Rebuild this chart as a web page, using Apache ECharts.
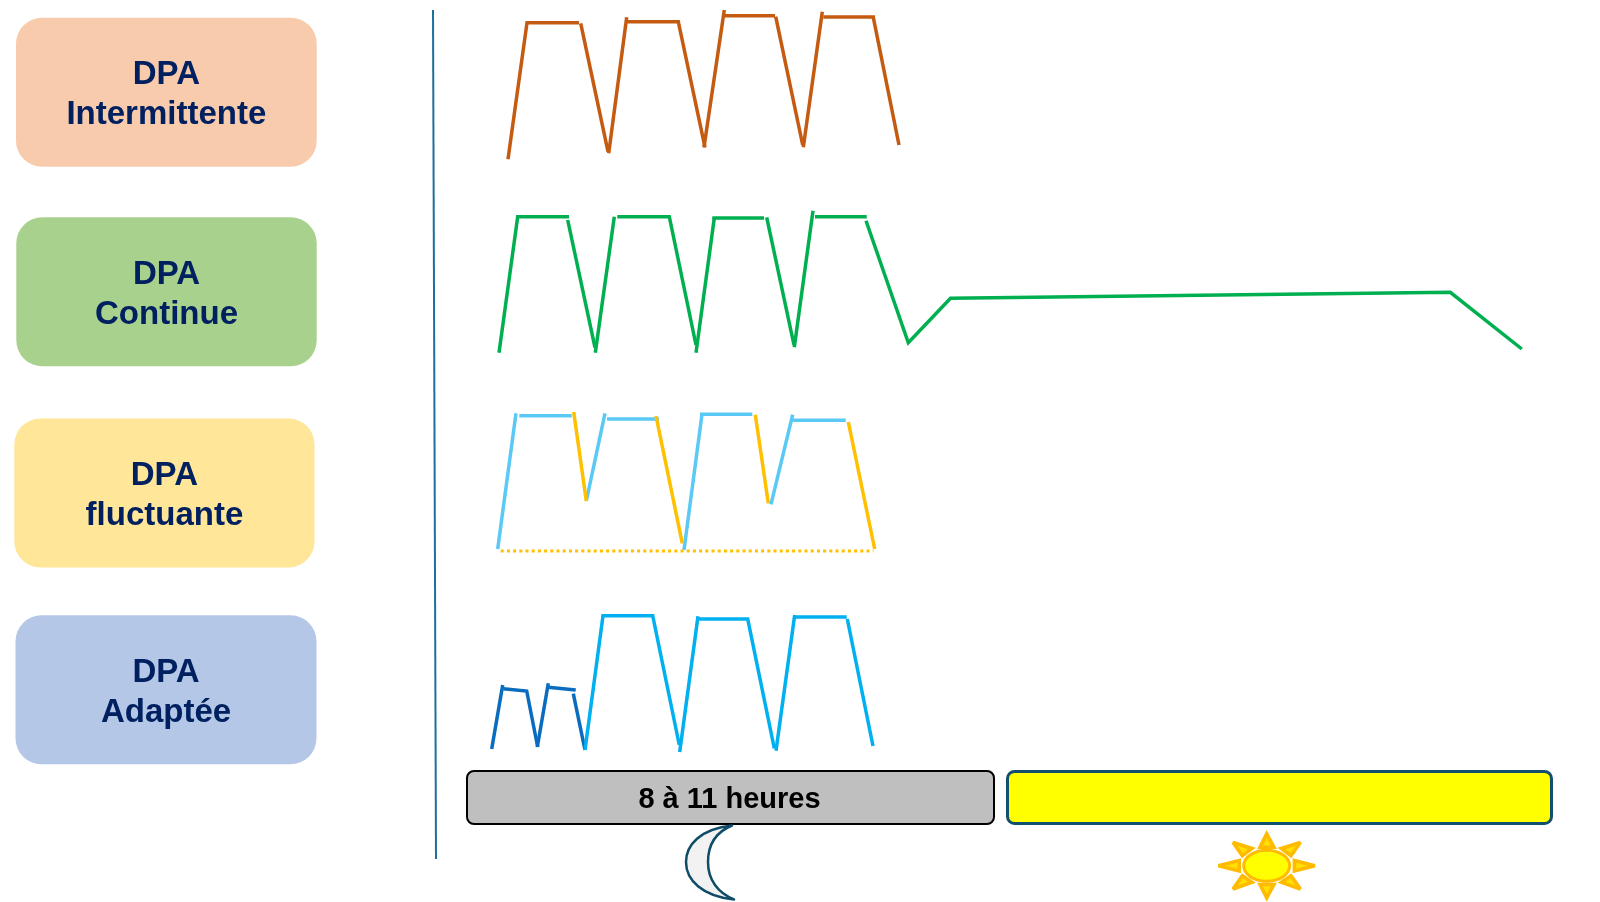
<!DOCTYPE html>
<html><head><meta charset="utf-8">
<style>html,body{margin:0;padding:0;background:#fff}#c{width:1600px;height:902px}</style>
<script src="https://cdn.jsdelivr.net/npm/echarts@6/dist/echarts.min.js"></script>
</head><body><div id="c"></div>
<script>
// Values: [time, level], one list per pen stroke.
const intermittente = [
  [[42,0.7],[61,137.3],[113,137.3]], [[114.7,136.7],[142,8.3]], [[142.7,6.7],[160.7,142.7]],
  [[160.7,138.3],[212.3,138.3],[239,12.7]], [[238,12.7],[258.3,150]], [[258.3,144.3],[309,144.3]],
  [[309.7,143.3],[336.7,15]], [[337.3,12.7],[356.3,148.3]], [[357.3,143],[409,143]], [[407.3,142.7],[433,15]]
];
const continue_ = [
  [[33,7.3],[51.7,143.3],[103,143.3]], [[101.7,140],[129,12.3]], [[129.3,7.3],[148.3,143.3]],
  [[151.3,143.3],[203.3,143.3],[230,15]], [[230,7.3],[248.3,142]], [[246.3,142],[298,142]],
  [[300.7,142.7],[328,15]], [[328.3,12.7],[347,149.3]], [[349,143.3],[400.7,143.3]],
  [[400,139.3],[442.3,17.3],[484.5,61.7],[984.3,67.7],[1055.8,11]]
];
const fluctuanteUp = [
  [[31.7,11],[50,146.7]], [[53.3,144.3],[105.7,144.3]], [[120.3,59],[139,146.7]], [[141,141],[193,141]],
  [[218,10],[236,145.7]], [[234,145.7],[286.3,145.7]], [[305,55.7],[326.7,145.3]], [[326.7,139.7],[379.7,139.7]]
];
const fluctuanteDown = [
  [[107.7,148],[120.3,59]], [[190,144],[216.3,16.7]], [[289.3,145.3],[302.3,56.7]], [[382.3,138],[408.7,11]]
];
const fluctuanteBase = [[34.7,9],[407.3,9]];
const adapteeLow = [
  [[25.7,11],[36.7,75]], [[37.3,71.3],[60.7,69],[71.7,13]], [[71.3,13],[82.3,76.7]],
  [[82.3,72.7],[109.7,70]], [[107.3,66.3],[119,10]]
];
const adapteeHigh = [
  [[119,10],[137,144.3]], [[135.3,144.3],[186.7,144.3],[213.3,15]], [[213.7,8],[232,143.7]],
  [[232,141],[281.7,141],[308.3,11.7]], [[310,9.3],[328.7,145]], [[328.7,143],[380.7,143]], [[381.3,141],[407,14]]
];
const boxLabels = [['DPA','Intermittente'],['DPA','Continue'],['DPA','fluctuante'],['DPA','Adaptée']];
const nightLabel = '8 à 11 heures';

echarts.graphic.registerShape('moon', echarts.graphic.extendShape({
  shape:{},
  buildPath(ctx){
    ctx.moveTo(732,825.5);
    ctx.bezierCurveTo(700,829,686,845,686,862);
    ctx.bezierCurveTo(686,880,702,896,734,899.5);
    ctx.bezierCurveTo(718,893,708,880,708,862);
    ctx.bezierCurveTo(708,845,716,832,732,825.5);
    ctx.closePath();
  }
}));

const boxes = [
  {x:16,y:17.7,w:300.7,h:149,c:'#F8CBAD',dy:57.5},
  {x:16.3,y:217.3,w:300.4,h:149,c:'#A9D18E',dy:58},
  {x:14.3,y:418.4,w:300.2,h:149,c:'#FFE699',dy:58},
  {x:15.5,y:615.3,w:301,h:149,c:'#B4C7E7',dy:58}
];
const g = [];
boxes.forEach((b,i)=>{
  g.push({type:'rect',shape:{x:b.x,y:b.y,width:b.w,height:b.h,r:26},style:{fill:b.c},silent:true});
  boxLabels[i].forEach((t,j)=>g.push({type:'text',style:{
    x:b.x+b.w/2,y:b.y+b.dy+j*40,text:t,fill:'#002060',align:'center',verticalAlign:'middle',
    font:'bold 33px "Liberation Sans", Arial, sans-serif'}}));
});
g.push({type:'line',shape:{x1:433,y1:10,x2:436,y2:859},style:{stroke:'#1F6F9C',lineWidth:2}});
g.push({type:'rect',shape:{x:467,y:771,width:527,height:53,r:7},style:{fill:'#BFBFBF',stroke:'#000',lineWidth:2}});
g.push({type:'text',style:{x:729.5,y:800,text:nightLabel,fill:'#000',align:'center',verticalAlign:'middle',
  font:'bold 29px "Liberation Sans", Arial, sans-serif'}});
g.push({type:'rect',shape:{x:1007.5,y:771.5,width:544,height:52,r:7},style:{fill:'#FFFF00',stroke:'#12506F',lineWidth:3}});
g.push({type:'moon',shape:{},style:{fill:'#F2F2F2',stroke:'#0F4C68',lineWidth:2.5,lineJoin:'round'}});
const sc=(x,y)=>[1180+x/3,760+y/3];
const rays=[
  [[260,215],[235,265],[287,265]],[[415,317],[338,298],[338,337]],[[105,317],[183,298],[183,337]],
  [[260,420],[235,370],[287,370]],[[368,243],[297,265],[333,292]],[[152,243],[223,265],[187,292]],
  [[368,392],[297,367],[333,342]],[[152,392],[223,367],[187,342]]
];
rays.forEach(r=>{
  const cx=(r[0][0]+r[1][0]+r[2][0])/3, cy=(r[0][1]+r[1][1]+r[2][1])/3;
  g.push({type:'polygon',shape:{points:r.map(p=>sc(cx+(p[0]-cx)*0.8,cy+(p[1]-cy)*0.8))},
    style:{fill:'#FFE000',stroke:'#FFBB00',lineWidth:3.6,lineJoin:'miter',miterLimit:3}});
});
g.push({type:'ellipse',shape:{cx:1266.7,cy:865.7,rx:23,ry:15.5},style:{fill:'#FFFF00',stroke:'#FFBB00',lineWidth:3}});

const panels = [0,200,400,600];
const stroke=(segs,color,idx,extra)=>segs.map(d=>({
  type:'line',data:d,xAxisIndex:idx,yAxisIndex:idx,showSymbol:false,symbol:'none',silent:true,clip:false,
  lineStyle:Object.assign({color:color,width:3.5,cap:'butt',join:'miter'},extra||{})
}));
const series=[].concat(
  stroke(intermittente,'#C55A11',0),
  stroke(continue_,'#00B050',1),
  stroke(fluctuanteUp,'#5BC9F5',2),
  stroke(fluctuanteDown,'#FFC000',2),
  stroke([fluctuanteBase],'#FFC000',2,{type:[3,3.2],width:3}),
  stroke(adapteeLow,'#0A6CBE',3),
  stroke(adapteeHigh,'#00B0F0',3)
);
const chart=echarts.init(document.getElementById('c'),null,{renderer:'canvas'});
chart.setOption({
  animation:false,
  backgroundColor:'#fff',
  grid:panels.map(t=>({left:466,top:t,width:1100,height:160,containLabel:false})),
  xAxis:panels.map((t,i)=>({type:'value',gridIndex:i,min:0,max:1100,show:false})),
  yAxis:panels.map((t,i)=>({type:'value',gridIndex:i,min:0,max:160,show:false})),
  graphic:{elements:g},
  series:series
});
</script></body></html>
